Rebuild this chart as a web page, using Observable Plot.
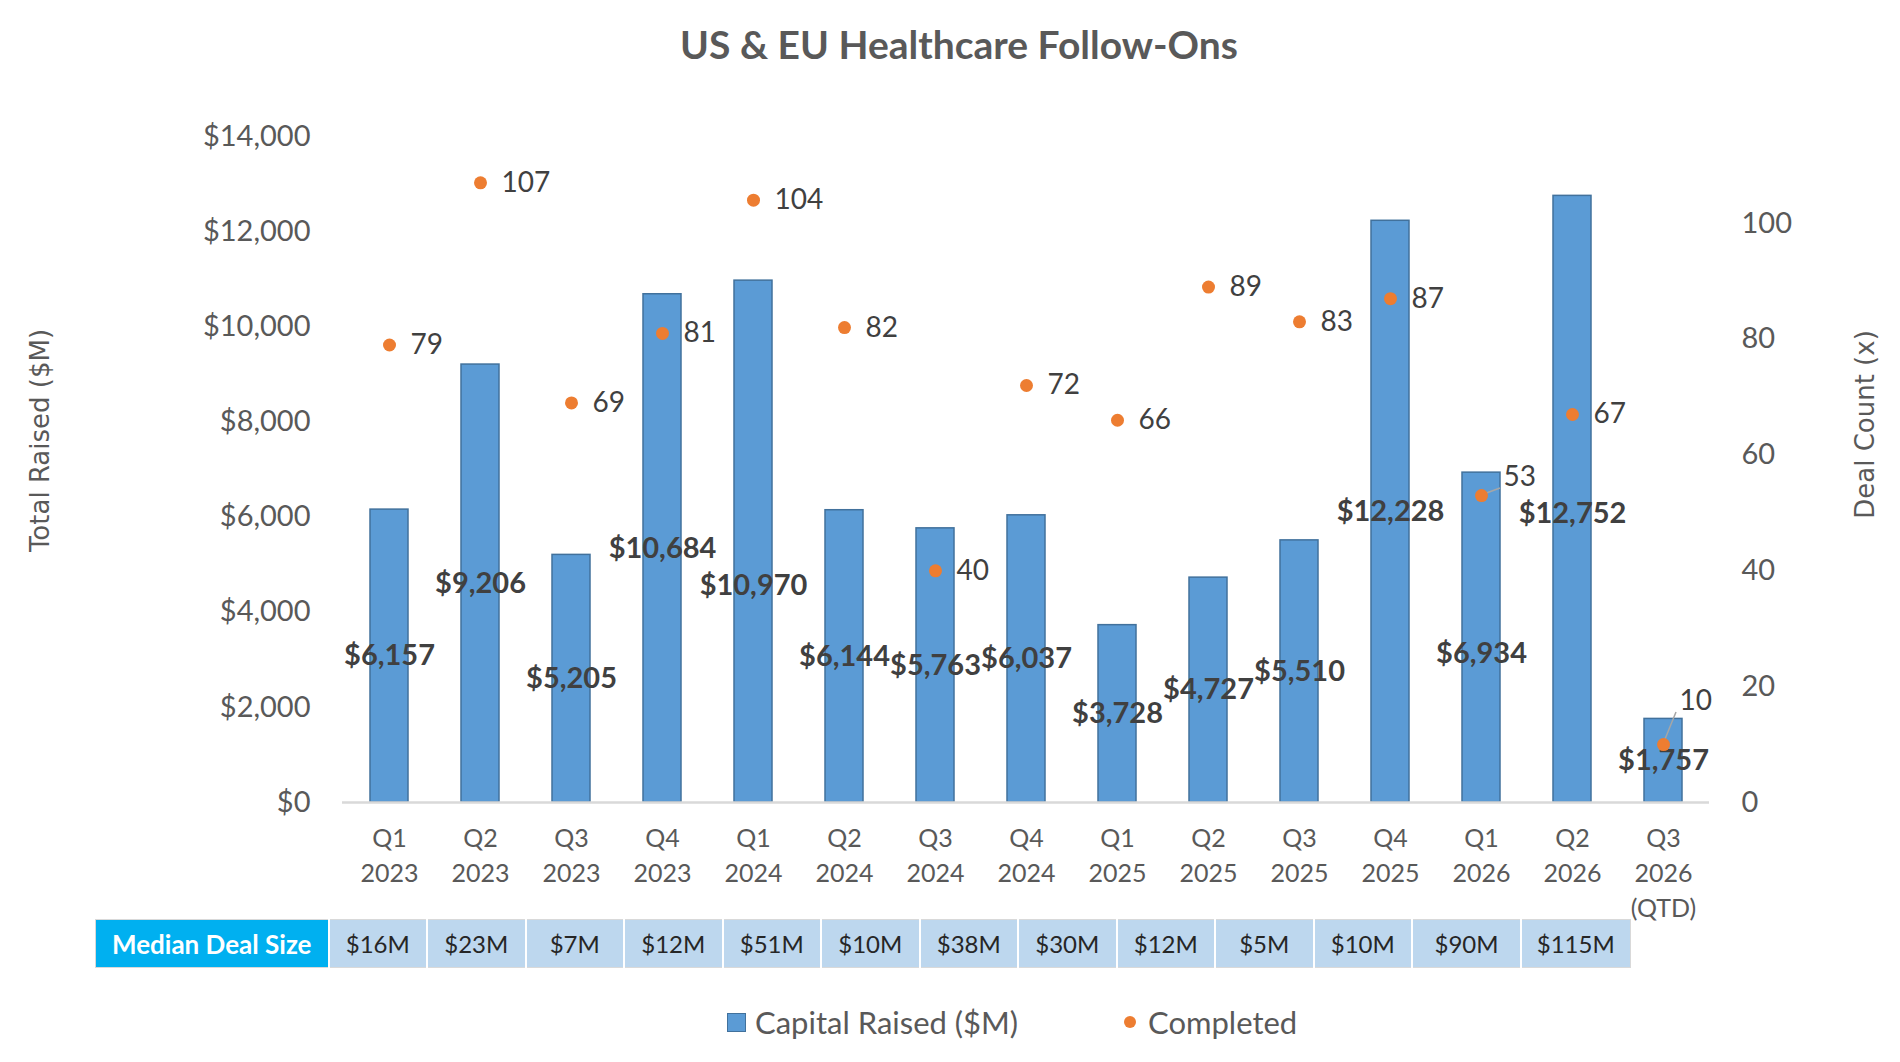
<!DOCTYPE html>
<html>
<head>
<meta charset="utf-8">
<script src="https://cdn.jsdelivr.net/npm/d3@7"></script>
<script src="https://cdn.jsdelivr.net/npm/@observablehq/plot@0.6"></script>
<style>
  html, body { margin: 0; padding: 0; background: #fff; }
  #wrap { position: relative; width: 1900px; height: 1062px; overflow: hidden; font-family: Lato, "Open Sans", sans-serif; }
  #title { position: absolute; left: 0; width: 1918px; top: 19px; text-align: center; font-size: 39px; font-weight: 700; color: #595959; line-height: 50px; }
  #chart { position: absolute; left: 0; top: 0; }
  #tbl { position: absolute; left: 95px; top: 919px; border-collapse: collapse; border: 1px solid #D9D9D9; }
  #tbl td { height: 48px; padding: 0; text-align: center; font-size: 24px; color: #262626; background: #BDD7EE; border-left: 2px solid #fff; box-sizing: border-box; }
  #tbl td.hdr { background: #00B0F0; color: #fff; font-weight: 700; font-size: 26px; border-left: none; }
  #legend { position: absolute; top: 1002px; left: 0; width: 1900px; height: 40px; font-size: 31px; color: #595959; }
  .lg { position: absolute; top: 0; display: flex; align-items: center; height: 40px; }
  .sw { width: 19px; height: 19px; background: #5B9BD5; border: 1.5px solid #41719C; box-sizing: border-box; margin-right: 9px; }
  .dt { width: 12px; height: 12px; border-radius: 50%; background: #ED7D31; margin-right: 12px; }
</style>
</head>
<body>
<div id="wrap">
  <div id="chart"></div>
  <div id="title"></div>
  <table id="tbl"><tr id="tblrow"></tr></table>
  <div id="legend"></div>
</div>
<script>
// ---- data ----
const chartTitle = "US & EU Healthcare Follow-Ons";
const quarters = ["Q1\n2023", "Q2\n2023", "Q3\n2023", "Q4\n2023", "Q1\n2024", "Q2\n2024", "Q3\n2024", "Q4\n2024",
                  "Q1\n2025", "Q2\n2025", "Q3\n2025", "Q4\n2025", "Q1\n2026", "Q2\n2026", "Q3\n2026\n(QTD)"];
const capitalRaised = [6157, 9206, 5205, 10684, 10970, 6144, 5763, 6037, 3728, 4727, 5510, 12228, 6934, 12752, 1757];
const dealCount = [79, 107, 69, 81, 104, 82, 40, 72, 66, 89, 83, 87, 53, 67, 10];
const medianDealLabel = "Median Deal Size";
const medianDealSize = ["$16M", "$23M", "$7M", "$12M", "$51M", "$10M", "$38M", "$30M", "$12M", "$5M", "$10M", "$90M", "$115M"];
const leftTicks = [0, 2000, 4000, 6000, 8000, 10000, 12000, 14000];
const rightTicks = [0, 20, 40, 60, 80, 100];
const leftMax = 14000;
const rightMax = 115;
const leftAxisTitle = "Total Raised ($M)";
const rightAxisTitle = "Deal Count (x)";
const seriesNames = ["Capital Raised ($M)", "Completed"];

// ---- label placement tweaks (as dragged in the original) ----
const capNudge = {"Q1\n2024": 44, "Q1\n2026": 16, "Q2\n2026": 15};          // bar-label dy (px)
const callout = {"Q1\n2026": {dx: 22, dy: -19}, "Q3\n2026\n(QTD)": {dx: 16, dy: -44}}; // deal-label callouts

// ---- build ----
const k = leftMax / rightMax; // secondary axis -> primary units
const rows = quarters.map((q, i) => ({q, cap: capitalRaised[i], deals: dealCount[i]}));
const plain = rows.filter(d => !callout[d.q]);
const called = rows.filter(d => callout[d.q]);
const money = d3.format(",");
const grey = "#595959";

const capTextMarks = d3.groups(rows, d => capNudge[d.q] || 0).map(([dy, g]) =>
  Plot.text(g, {x: "q", y: d => d.cap / 2, dy, text: d => "$" + money(d.cap), fontSize: 29, fontWeight: 700, fill: "#404040"}));
const calloutMarks = called.map(d =>
  Plot.text([d], {x: "q", y: e => e.deals * k, dx: callout[d.q].dx, dy: callout[d.q].dy, text: e => String(e.deals),
                  textAnchor: "start", fontSize: 28, fill: "#404040"}));

const plot = Plot.plot({
  width: 1900,
  height: 940,
  marginLeft: 342,
  marginRight: 191,
  marginTop: 136,
  marginBottom: 138,
  style: {fontFamily: "Lato, 'Open Sans', sans-serif", background: "transparent"},
  x: {type: "band", domain: quarters, paddingInner: 0.583, paddingOuter: 0.29, axis: null},
  y: {domain: [0, leftMax], nice: false, axis: null},
  marks: [
    Plot.barY(rows, {x: "q", y: "cap", fill: "#5B9BD5", stroke: "#41719C", strokeWidth: 1.5}),
    Plot.ruleY([0], {stroke: "#D9D9D9", strokeWidth: 2.5}),
    Plot.axisY({ticks: leftTicks, tickFormat: d => "$" + money(d), tickSize: 0, tickPadding: 32,
                fontSize: 29, fill: grey, label: null}),
    Plot.axisY({anchor: "right", ticks: rightTicks.map(t => t * k), tickFormat: d => String(Math.round(d / k)),
                tickSize: 0, tickPadding: 32, fontSize: 29, fill: grey, label: null}),
    Plot.axisX({tickSize: 0, tickPadding: 20, fontSize: 25, fill: grey, lineHeight: 1.4, label: null}),
    ...capTextMarks,
    Plot.dot(rows, {x: "q", y: d => d.deals * k, r: 6.5, fill: "#ED7D31", stroke: null}),
    Plot.text(plain, {x: "q", y: d => d.deals * k, text: d => String(d.deals), textAnchor: "start", dx: 21, fontSize: 28, fill: "#404040"}),
    ...calloutMarks,
    Plot.text([leftAxisTitle], {frameAnchor: "left", textAnchor: "middle", dx: -302, dy: -29, rotate: -90, fontSize: 26, fill: grey, fontFamily: "'DejaVu Sans', sans-serif"}),
    Plot.text([rightAxisTitle], {frameAnchor: "right", textAnchor: "middle", dx: 156, dy: -45, rotate: -90, fontSize: 26, fill: grey, fontFamily: "'DejaVu Sans', sans-serif"})
  ]
});
document.getElementById("chart").appendChild(plot);

// leader lines for the callout labels, positioned through the plot's own scales
const sx = plot.scale("x"), sy = plot.scale("y");
const svg = d3.select(plot);
called.forEach(d => {
  const cx = sx.apply(d.q) + sx.bandwidth / 2;
  const cy = sy.apply(d.deals * k);
  const c = callout[d.q];
  const tx = cx + c.dx - 3, ty = cy + c.dy + 12;
  svg.insert("path", "g[aria-label=dot]")
    .attr("d", `M${cx},${cy}L${tx},${ty}`)
    .attr("stroke", "#A6A6A6").attr("stroke-width", 1.5).attr("fill", "none");
});

document.getElementById("title").textContent = chartTitle;

// median deal size table
const row = d3.select("#tblrow");
row.append("td").attr("class", "hdr").style("width", "233px").text(medianDealLabel);
medianDealSize.forEach((v, i) => {
  row.append("td").style("width", i >= medianDealSize.length - 2 ? "109px" : "98.5px").text(v);
});

// legend
const lg = d3.select("#legend");
const a = lg.append("div").attr("class", "lg").style("left", "727px");
a.append("div").attr("class", "sw");
a.append("span").text(seriesNames[0]);
const b = lg.append("div").attr("class", "lg").style("left", "1124px");
b.append("div").attr("class", "dt");
b.append("span").text(seriesNames[1]);
</script>
</body>
</html>
